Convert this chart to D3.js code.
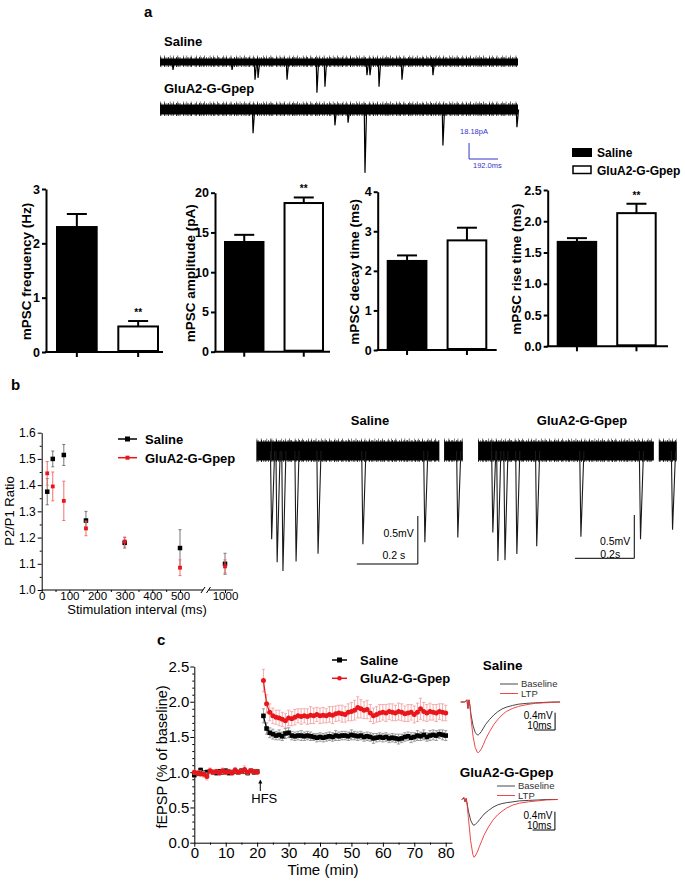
<!DOCTYPE html>
<html><head><meta charset="utf-8">
<script src="https://cdn.jsdelivr.net/npm/d3@7"></script>
<style>
body{margin:0;background:#fff}
svg{display:block;font-family:"Liberation Sans",Arial,Helvetica,sans-serif}
</style></head><body>
<svg id="fig" width="685" height="882"></svg>
<script>
// ================= DATA =================
// Panel a – example mPSC traces (events)
const aSalineEventMs = [86,477,629,649,841,1039,1092,1370,1390,1450,1602,1807];
const aSalineEventPA = [9,9,20,18,20,35,28,15,15,28,20,15];
const aGluEventMs = [616,1158,1245,1357,1873,2363];
const aGluEventPA = [27,18,15,72,41,20];

// Panel a – bar charts
const groups = ["Saline","GluA2-G-Gpep"];
const freqMean = [2.30,0.47],  freqErr = [0.24,0.10], freqSig = ["","**"];
const ampMean  = [13.8,18.7],  ampErr  = [0.90,0.70], ampSig  = ["","**"];
const decayMean= [2.25,2.77],  decayErr= [0.14,0.32], decaySig= ["",""];
const riseMean = [1.67,2.13],  riseErr = [0.06,0.15], riseSig = ["","**"];
const freqTicks = [0,1,2,3];
const ampTicks  = [0,5,10,15,20];
const decayTicks= [0,1,2,3,4];
const riseTicks = [0,0.5,1.0,1.5,2.0,2.5];

// Panel b – paired-pulse ratio
const ppIntervals = [20,40,80,160,300,500,1000];
const ppSaline    = [1.375,1.500,1.515,1.265,1.180,1.160,1.100];
const ppSalineErr = [0.050,0.030,0.040,0.035,0.020,0.070,0.040];
const ppGlu       = [1.445,1.395,1.340,1.235,1.185,1.085,1.090];
const ppGluErr    = [0.045,0.055,0.075,0.028,0.017,0.030,0.025];
const ppXTicks = [0,100,200,300,400,500,1000];
const ppYTicks = [1.0,1.1,1.2,1.3,1.4,1.5,1.6];

// Panel b – example traces (spike times in ms, depth in mV)
const bSalineSpikeMs = [49,67,86,129,201,348,551,659];
const bSalineSpikeMv = [0.92,1.16,1.25,1.15,1.07,0.97,0.95,0.90];
const bSalineSegs = [[0,49],[49,598],[615,675]];
const bGluSpikeMs = [49,66,90,130,197,346,547,655];
const bGluSpikeMv = [0.94,1.27,1.26,1.19,1.10,0.99,1.02,0.91];
const bGluSegs = [[0,45],[45,592],[609,669]];

// Panel c – LTP time course
const cBaseTime = [0,1,2,3,4,5,6,7,8,9,10,11,12,13,14,15,16,17,18,19,20];
const cSalBase  = [0.96,0.98,1.03,0.99,1.00,1.01,1.00,0.99,1.01,1.00,1.02,0.99,1.00,1.01,1.00,1.02,1.01,0.99,1.02,1.00,1.01];
const cGluBase  = [1.00,0.99,0.98,0.97,0.94,1.02,1.00,1.01,0.99,1.02,1.00,1.01,0.99,1.03,1.00,1.01,1.04,1.00,1.02,1.01,1.00];
const cSalBaseErr=[0.03,0.03,0.03,0.03,0.03,0.03,0.03,0.03,0.03,0.03,0.03,0.03,0.03,0.03,0.03,0.03,0.03,0.03,0.03,0.03,0.03];
const cGluBaseErr=[0.03,0.03,0.04,0.04,0.05,0.04,0.03,0.03,0.03,0.04,0.03,0.03,0.03,0.04,0.03,0.03,0.05,0.03,0.03,0.03,0.03];
const cPostTime = [22,23,24,25,26,27,28,29,30,31,32,33,34,35,36,37,38,39,40,41,42,43,44,45,46,47,48,49,50,51,52,53,54,55,56,57,58,59,60,61,62,63,64,65,66,67,68,69,70,71,72,73,74,75,76,77,78,79,80];
const cSalPost = [1.80,1.62,1.56,1.54,1.52,1.53,1.51,1.55,1.56,1.52,
                  1.51,1.52,1.52,1.51,1.52,1.51,1.50,1.49,1.50,1.49,
                  1.50,1.51,1.50,1.52,1.51,1.52,1.52,1.51,1.53,1.52,
                  1.51,1.52,1.50,1.51,1.50,1.48,1.49,1.50,1.49,1.50,
                  1.48,1.49,1.48,1.47,1.48,1.50,1.51,1.49,1.50,1.52,
                  1.51,1.53,1.50,1.52,1.53,1.52,1.54,1.53,1.52];
const cSalPostErr = [0.10,0.08,0.07,0.07,0.06,0.07,0.06,0.07,0.07,0.06,
                     0.06,0.06,0.07,0.06,0.06,0.06,0.05,0.06,0.06,0.06,
                     0.06,0.06,0.06,0.07,0.06,0.06,0.06,0.06,0.07,0.06,
                     0.06,0.06,0.06,0.06,0.06,0.07,0.06,0.06,0.06,0.06,
                     0.06,0.06,0.06,0.07,0.06,0.06,0.06,0.07,0.06,0.07,
                     0.06,0.07,0.06,0.07,0.07,0.07,0.06,0.07,0.07];
const cGluPost = [2.30,1.97,1.85,1.80,1.78,1.77,1.75,1.73,1.77,1.76,
                  1.78,1.80,1.79,1.80,1.79,1.81,1.80,1.82,1.80,1.81,
                  1.80,1.82,1.81,1.83,1.84,1.83,1.82,1.85,1.86,1.88,
                  1.92,1.90,1.88,1.89,1.84,1.80,1.82,1.84,1.85,1.84,
                  1.86,1.85,1.84,1.86,1.85,1.83,1.84,1.85,1.82,1.85,
                  1.90,1.86,1.84,1.86,1.85,1.84,1.86,1.85,1.84];
const cGluPostErr = [0.16,0.13,0.12,0.11,0.10,0.11,0.10,0.10,0.11,0.10,
                     0.11,0.10,0.11,0.10,0.11,0.12,0.11,0.10,0.11,0.11,
                     0.10,0.11,0.12,0.11,0.11,0.12,0.11,0.12,0.13,0.14,
                     0.15,0.13,0.12,0.13,0.12,0.11,0.11,0.12,0.11,0.12,
                     0.11,0.12,0.11,0.12,0.12,0.11,0.12,0.11,0.12,0.13,
                     0.15,0.13,0.12,0.12,0.11,0.12,0.11,0.12,0.11];
const cXTicks = [0,10,20,30,40,50,60,70,80];
const cYTicks = [0,0.5,1.0,1.5,2.0,2.5];

// Panel c – example fEPSP waveforms (ms, mV)
const epSalT    = [0,2,3,3.5,4,4.5,5,6,7,8,8.5,9,10,11,12,14,16,18,20,22,25,28,32,36,40,44,48];
const epSalBase = [0,0,0.05,-0.15,0.05,-0.1,-0.3,-0.55,-0.7,-0.76,-0.76,-0.74,-0.68,-0.6,-0.52,-0.4,-0.3,-0.22,-0.16,-0.12,-0.08,-0.05,-0.03,-0.02,-0.01,0,0];
const epSalLtp  = [0,0,0.05,-0.15,0.05,-0.1,-0.4,-0.8,-1.05,-1.16,-1.17,-1.15,-1.08,-0.98,-0.86,-0.68,-0.52,-0.4,-0.3,-0.22,-0.15,-0.1,-0.06,-0.03,-0.02,-0.01,0];
const epGluT    = [0,1,1.5,2,2.5,3,4,5,5.5,6,7,8,9,10,12,14,16,18,20,23,26,30,34,38,43];
const epGluBase = [0,0.03,-0.05,0.02,-0.1,-0.25,-0.45,-0.55,-0.56,-0.55,-0.5,-0.44,-0.38,-0.32,-0.24,-0.17,-0.12,-0.09,-0.07,-0.05,-0.03,-0.02,-0.01,0,0];
const epGluLtp  = [0,0.05,-0.05,0.03,-0.15,-0.4,-0.9,-1.2,-1.26,-1.24,-1.15,-1.02,-0.9,-0.78,-0.6,-0.45,-0.34,-0.26,-0.19,-0.12,-0.08,-0.05,-0.03,-0.01,0];

// ================= DRAWING =================
const svg = d3.select("#fig");
const RED = "#e8161b";
const RAGGED = "0.6 1.1 0.4 2.3 0.8 1.5 0.5 0.9 0.7 2.8";

function txt(g, x, y, s, o = {}) {
  const t = g.append("text").attr("x", x).attr("y", y).text(s)
    .attr("font-size", o.size || 13)
    .attr("font-weight", o.bold ? "bold" : "normal")
    .attr("text-anchor", o.anchor || "start")
    .attr("fill", o.fill || "#000");
  if (o.base) t.attr("dominant-baseline", o.base);
  if (o.rot) t.attr("transform", `rotate(${o.rot},${x},${y})`);
  return t;
}
function styleAxis(g, o) {
  g.selectAll("path.domain").attr("stroke", "#000").attr("stroke-width", o.lw);
  g.selectAll(".tick line").attr("stroke", "#000").attr("stroke-width", o.lw);
  g.selectAll(".tick text").attr("fill", "#000").attr("font-size", o.size)
    .attr("font-weight", o.bold ? "bold" : "normal")
    .attr("font-family", '"Liberation Sans",Arial,sans-serif');
}
function band(g, x1, x2, y, w) {
  g.append("line").attr("x1", x1).attr("x2", x2).attr("y1", y).attr("y2", y)
    .attr("stroke", "#000").attr("stroke-width", w);
  g.append("line").attr("x1", x1).attr("x2", x2).attr("y1", y).attr("y2", y)
    .attr("stroke", "#000").attr("stroke-width", w + 3).attr("stroke-dasharray", RAGGED);
  g.append("line").attr("x1", x1).attr("x2", x2).attr("y1", y - 1).attr("y2", y - 1)
    .attr("stroke", "#000").attr("stroke-width", w + 4).attr("stroke-dasharray", "0.5 3.7 0.6 5.1 0.5 2.9");
}

// panel letters
txt(svg, 144, 17, "a", {size: 15, bold: true});
txt(svg, 11, 390, "b", {size: 15, bold: true});
txt(svg, 157, 645, "c", {size: 15, bold: true});

// ---------- Panel a traces ----------
{
  const g = svg.append("g");
  const x = d3.scaleLinear().domain([0, 2370]).range([160, 518]);
  const y = d3.scaleLinear().domain([0, 18.18]).range([0, 16]);
  function trace(cy, w, ms, pa) {
    band(g, x(0), x(2370), cy, w);
    ms.forEach((t, i) => {
      const px = x(t), d = y(pa[i]);
      g.append("path").attr("d", `M${px - 0.7},${cy} L${px},${cy + d} L${px + 1.6},${cy}`)
        .attr("fill", "none").attr("stroke", "#000").attr("stroke-width", 1.2);
    });
  }
  txt(g, 164, 46, "Saline", {size: 13, bold: true});
  trace(62, 7, aSalineEventMs, aSalineEventPA);
  txt(g, 164, 93, "GluA2-G-Gpep", {size: 13, bold: true});
  trace(109.5, 10, aGluEventMs, aGluEventPA);
  // scale bar 18.18 pA / 192 ms
  const sx0 = x(2046), sy1 = 159;
  g.append("path").attr("d", `M${sx0},${sy1 - y(18.18)} L${sx0},${sy1} L${x(2046 + 192)},${sy1}`)
    .attr("fill", "none").attr("stroke", "#3333cc").attr("stroke-width", 1);
  txt(g, 460, 134, "18.18pA", {size: 7.5, fill: "#3333cc"});
  txt(g, 473, 168, "192.0ms", {size: 7.5, fill: "#3333cc"});
}

// ---------- Panel a bar charts ----------
const barPanels = [
  {mean: freqMean, err: freqErr, sig: freqSig, ticks: freqTicks, fmt: d3.format("d"), title: "mPSC frequency (Hz)", ax: 46, end: 163, bars: [56, 159], y0: 352, yTop: 189, max: 3, tx: 26},
  {mean: ampMean, err: ampErr, sig: ampSig, ticks: ampTicks, fmt: d3.format("d"), title: "mPSC amplitude (pA)", ax: 215, end: 330, bars: [224, 324], y0: 351.7, yTop: 192.7, max: 20, tx: 191},
  {mean: decayMean, err: decayErr, sig: decaySig, ticks: decayTicks, fmt: d3.format("d"), title: "mPSC decay time (ms)", ax: 377.7, end: 496.7, bars: [386.7, 487.3], y0: 350, yTop: 191.7, max: 4, tx: 355},
  {mean: riseMean, err: riseErr, sig: riseSig, ticks: riseTicks, fmt: d3.format(".1f"), title: "mPSC rise time (ms)", ax: 547.7, end: 668, bars: [556.7, 656.7], y0: 346.3, yTop: 190, max: 2.5, tx: 516.5}
];
barPanels.forEach(p => {
  const g = svg.append("g");
  const y = d3.scaleLinear().domain([0, p.max]).range([p.y0, p.yTop]);
  const x = d3.scaleBand().domain(groups).range(p.bars).paddingInner(0.32).paddingOuter(0);
  groups.forEach((k, i) => {
    const cx = x(k) + x.bandwidth() / 2;
    g.append("line").attr("x1", cx).attr("x2", cx).attr("y1", y(p.mean[i])).attr("y2", y(p.mean[i] + p.err[i]))
      .attr("stroke", "#000").attr("stroke-width", 2);
    g.append("line").attr("x1", cx - 10).attr("x2", cx + 10).attr("y1", y(p.mean[i] + p.err[i])).attr("y2", y(p.mean[i] + p.err[i]))
      .attr("stroke", "#000").attr("stroke-width", 2);
    if (p.sig[i]) txt(g, cx, y(p.mean[i] + p.err[i]) - 5, p.sig[i], {size: 10, bold: true, anchor: "middle"});
  });
  g.selectAll("rect.bar").data(groups).join("rect")
    .attr("x", d => x(d) + 1).attr("width", x.bandwidth() - 2)
    .attr("y", (d, i) => y(p.mean[i])).attr("height", (d, i) => p.y0 - y(p.mean[i]) - 1)
    .attr("fill", (d, i) => i === 0 ? "#000" : "#fff")
    .attr("stroke", "#000").attr("stroke-width", 2);
  const ya = g.append("g").attr("transform", `translate(${p.ax},0)`)
    .call(d3.axisLeft(y).tickValues(p.ticks).tickFormat(p.fmt).tickSize(4).tickSizeOuter(0).tickPadding(2));
  styleAxis(ya, {lw: 2, size: 12.5, bold: true});
  g.append("line").attr("x1", p.ax - 1).attr("x2", p.end).attr("y1", p.y0).attr("y2", p.y0)
    .attr("stroke", "#000").attr("stroke-width", 2);
  const xa = g.append("g").attr("transform", `translate(0,${p.y0})`)
    .call(d3.axisBottom(x).tickSize(5).tickFormat(""));
  xa.select("path.domain").remove();
  styleAxis(xa, {lw: 2, size: 12});
  txt(g, p.tx, (p.y0 + p.yTop) / 2 + 1, p.title, {size: 13.5, bold: true, anchor: "middle", base: "central", rot: -90});
});
// bar legend
{
  const g = svg.append("g");
  g.append("rect").attr("x", 572.5).attr("y", 148.5).attr("width", 19).attr("height", 8).attr("fill", "#000").attr("stroke", "#000");
  g.append("rect").attr("x", 573).attr("y", 166).attr("width", 18).attr("height", 7.5).attr("fill", "#fff").attr("stroke", "#000").attr("stroke-width", 1.5);
  txt(g, 597, 157, groups[0], {size: 12, bold: true});
  txt(g, 597, 174.5, groups[1], {size: 12, bold: true});
}

// ---------- Panel b: PPR ----------
{
  const g = svg.append("g");
  const x = d3.scaleLinear().domain([0, 500, 1000]).range([41.7, 180, 225]);
  const y = d3.scaleLinear().domain([1.0, 1.6]).range([590, 432.7]);
  const ya = g.append("g").attr("transform", "translate(41.7,0)")
    .call(d3.axisLeft(y).tickValues(ppYTicks).tickFormat(d3.format(".1f")).tickSize(4).tickSizeOuter(0).tickPadding(2));
  styleAxis(ya, {lw: 1, size: 12});
  g.append("g").attr("transform", "translate(41.7,0)")
    .call(d3.axisLeft(y).tickValues([1.05, 1.15, 1.25, 1.35, 1.45, 1.55]).tickFormat("").tickSize(2).tickSizeOuter(0))
    .call(s => { s.select("path.domain").remove(); s.selectAll("line").attr("stroke", "#000"); });
  const xa = g.append("g").attr("transform", "translate(0,590)")
    .call(d3.axisBottom(x).tickValues(ppXTicks).tickFormat(d3.format("d")).tickSize(3).tickPadding(-1));
  xa.select("path.domain").remove();
  styleAxis(xa, {lw: 1, size: 11.5});
  g.append("g").attr("transform", "translate(0,590)")
    .call(d3.axisBottom(x).tickValues([50, 150, 250, 350, 450]).tickFormat("").tickSize(2))
    .call(s => { s.select("path.domain").remove(); s.selectAll("line").attr("stroke", "#000"); });
  g.append("line").attr("x1", 41.7).attr("x2", 203).attr("y1", 590).attr("y2", 590).attr("stroke", "#000");
  g.append("line").attr("x1", 208.5).attr("x2", 233).attr("y1", 590).attr("y2", 590).attr("stroke", "#000");
  g.append("path").attr("d", "M201,593 L205,587 M206.5,593 L210.5,587").attr("stroke", "#000").attr("fill", "none");
  function series(vals, errs, color, ecolor, sz) {
    ppIntervals.forEach((t, i) => {
      const px = x(t);
      g.append("line").attr("x1", px).attr("x2", px).attr("y1", y(vals[i] - errs[i])).attr("y2", y(vals[i] + errs[i]))
        .attr("stroke", ecolor).attr("stroke-width", 1);
      [-1, 1].forEach(s => g.append("line").attr("x1", px - 1.5).attr("x2", px + 1.5)
        .attr("y1", y(vals[i] + s * errs[i])).attr("y2", y(vals[i] + s * errs[i])).attr("stroke", ecolor));
    });
    g.selectAll(null).data(vals).join("rect")
      .attr("x", (d, i) => x(ppIntervals[i]) - sz / 2).attr("y", d => y(d) - sz / 2)
      .attr("width", sz).attr("height", sz).attr("fill", color);
  }
  series(ppSaline, ppSalineErr, "#000", "#777", 4.5);
  series(ppGlu, ppGluErr, RED, "#f07070", 3.8);
  g.append("line").attr("x1", 118).attr("x2", 137).attr("y1", 439).attr("y2", 439).attr("stroke", "#000").attr("stroke-width", 1.5);
  g.append("rect").attr("x", 125).attr("y", 436.5).attr("width", 5).attr("height", 5).attr("fill", "#000");
  g.append("line").attr("x1", 118).attr("x2", 137).attr("y1", 457.7).attr("y2", 457.7).attr("stroke", RED).attr("stroke-width", 1.5);
  g.append("rect").attr("x", 125.5).attr("y", 455.7).attr("width", 4).attr("height", 4).attr("fill", RED);
  txt(g, 145, 443.5, "Saline", {size: 13, bold: true});
  txt(g, 145, 462.5, "GluA2-G-Gpep", {size: 13, bold: true});
  txt(g, 9, 511, "P2/P1 Ratio", {size: 13, anchor: "middle", base: "central", rot: -90});
  txt(g, 137, 614, "Stimulation interval (ms)", {size: 13, anchor: "middle"});
}

// ---------- Panel b: traces ----------
function bTrace(title, titleX, x0, x1, dur, segs, spikeMs, spikeMv, pxPerMv, barX, barY, mvLabelY, sLabelY, sLabel) {
  const g = svg.append("g");
  const x = d3.scaleLinear().domain([0, dur]).range([x0, x1]);
  const y = d3.scaleLinear().domain([0, 1]).range([451, 451 + pxPerMv]);
  txt(g, titleX, 425, title, {size: 13, bold: true, anchor: "middle"});
  segs.forEach(s => band(g, x(s[0]), x(s[1]), y(0), 19));
  spikeMs.forEach((t, i) => {
    const px = x(t), py = y(spikeMv[i]);
    g.append("path").attr("d", `M${px - 1.2},${y(0)} L${px},${py} L${px + 3},${y(0)}`)
      .attr("fill", "none").attr("stroke", "#1a1a1a").attr("stroke-width", 1.1);
  });
  g.append("path").attr("d", `M${x(barX - 200)},${barY} L${x(barX)},${barY} L${x(barX)},${barY - (y(0.5) - y(0))}`)
    .attr("fill", "none").attr("stroke", "#000").attr("stroke-width", 1);
  txt(g, x(barX) - 4, mvLabelY, "0.5mV", {size: 10.5, anchor: "end"});
  txt(g, x(barX) - 24, sLabelY, sLabel, {size: 10.5, anchor: "middle"});
}
bTrace("Saline", 370, 256.7, 462.7, 675, bSalineSegs, bSalineSpikeMs, bSalineSpikeMv, 96, 528, 564, 537, 559, "0.2 s");
bTrace("GluA2-G-Gpep", 582, 478.3, 676.7, 669, bGluSegs, bGluSpikeMs, bGluSpikeMv, 86.6, 526, 558.3, 545, 558, "0.2s");

// ---------- Panel c: LTP time course ----------
{
  const g = svg.append("g");
  const x = d3.scaleLinear().domain([0, 82]).range([194.3, 452]);
  const y = d3.scaleLinear().domain([0, 2.5]).range([842.7, 666.5]);
  const ya = g.append("g").attr("transform", "translate(194.3,0)")
    .call(d3.axisLeft(y).tickValues(cYTicks).tickFormat(d3.format(".1f")).tickSize(4).tickSizeOuter(0).tickPadding(1));
  styleAxis(ya, {lw: 1, size: 15});
  g.append("g").attr("transform", "translate(194.3,0)")
    .call(d3.axisLeft(y).tickValues([0.1,0.2,0.3,0.4,0.6,0.7,0.8,0.9,1.1,1.2,1.3,1.4,1.6,1.7,1.8,1.9,2.1,2.2,2.3,2.4]).tickFormat("").tickSize(2).tickSizeOuter(0))
    .call(s => { s.select("path.domain").remove(); s.selectAll("line").attr("stroke", "#000"); });
  const xa = g.append("g").attr("transform", "translate(0,842.7)")
    .call(d3.axisBottom(x).tickValues(cXTicks).tickFormat(d3.format("d")).tickSize(4).tickSizeOuter(0).tickPadding(1));
  styleAxis(xa, {lw: 1, size: 15});
  g.append("g").attr("transform", "translate(0,842.7)")
    .call(d3.axisBottom(x).tickValues([5, 15, 25, 35, 45, 55, 65, 75]).tickFormat("").tickSize(2))
    .call(s => { s.select("path.domain").remove(); s.selectAll("line").attr("stroke", "#000"); });

  function series(times, vals, errs, color, ecolor, shape) {
    const pts = times.map((t, i) => [x(t), y(vals[i]), y(vals[i] - errs[i]), y(vals[i] + errs[i])]);
    pts.forEach(p => {
      g.append("line").attr("x1", p[0]).attr("x2", p[0]).attr("y1", p[2]).attr("y2", p[3]).attr("stroke", ecolor).attr("stroke-width", 0.8);
      [p[2], p[3]].forEach(yy => g.append("line").attr("x1", p[0] - 1.6).attr("x2", p[0] + 1.6).attr("y1", yy).attr("y2", yy).attr("stroke", ecolor).attr("stroke-width", 0.8));
    });
    g.append("path").attr("d", d3.line()(pts.map(p => [p[0], p[1]]))).attr("fill", "none").attr("stroke", color).attr("stroke-width", 1.2);
    pts.forEach(p => {
      if (shape === "sq") g.append("rect").attr("x", p[0] - 2.3).attr("y", p[1] - 2.3).attr("width", 4.6).attr("height", 4.6).attr("fill", color);
      else g.append("circle").attr("cx", p[0]).attr("cy", p[1]).attr("r", 2.5).attr("fill", color);
    });
  }
  series(cBaseTime, cSalBase, cSalBaseErr, "#000", "#888", "sq");
  series(cPostTime, cSalPost, cSalPostErr, "#000", "#888", "sq");
  series(cBaseTime, cGluBase, cGluBaseErr, RED, "#f29a9a", "ci");
  series(cPostTime, cGluPost, cGluPostErr, RED, "#f29a9a", "ci");

  const hx = x(21);
  g.append("line").attr("x1", hx).attr("x2", hx).attr("y1", 791).attr("y2", 782).attr("stroke", "#000").attr("stroke-width", 1);
  g.append("path").attr("d", `M${hx - 2},${783.5} L${hx},${779.5} L${hx + 2},${783.5} Z`).attr("fill", "#000");
  txt(g, hx + 4, 803, "HFS", {size: 13, anchor: "middle"});

  g.append("line").attr("x1", 332).attr("x2", 347).attr("y1", 660).attr("y2", 660).attr("stroke", "#000").attr("stroke-width", 1.5);
  g.append("rect").attr("x", 337).attr("y", 657.5).attr("width", 5).attr("height", 5).attr("fill", "#000");
  g.append("line").attr("x1", 332).attr("x2", 347).attr("y1", 678.3).attr("y2", 678.3).attr("stroke", RED).attr("stroke-width", 1.5);
  g.append("circle").attr("cx", 339.5).attr("cy", 678.3).attr("r", 2.3).attr("fill", RED);
  txt(g, 360, 664.5, "Saline", {size: 13, bold: true});
  txt(g, 360, 683, "GluA2-G-Gpep", {size: 13, bold: true});

  txt(g, 162, 757, "fEPSP (% of baseline)", {size: 14.5, anchor: "middle", base: "central", rot: -90});
  txt(g, 323, 875, "Time (min)", {size: 15, anchor: "middle"});
}

// ---------- Panel c: fEPSP insets ----------
function inset(title, titleX, titleY, legX, legY, t, base, ltp, x0, pxPerMs, y0, pxPerMv, barX, barY) {
  const g = svg.append("g");
  const x = d3.scaleLinear().domain([0, 10]).range([x0, x0 + 10 * pxPerMs]);
  const y = d3.scaleLinear().domain([0, -1]).range([y0, y0 + pxPerMv]);
  txt(g, titleX, titleY, title, {size: 13.5, bold: true, anchor: "middle"});
  g.append("line").attr("x1", legX).attr("x2", legX + 18).attr("y1", legY).attr("y2", legY).attr("stroke", "#333").attr("stroke-width", 0.9);
  g.append("line").attr("x1", legX).attr("x2", legX + 18).attr("y1", legY + 9.5).attr("y2", legY + 9.5).attr("stroke", "#e33").attr("stroke-width", 0.9);
  txt(g, legX + 21, legY + 3.3, "Baseline", {size: 9.5, fill: "#333"});
  txt(g, legX + 21, legY + 12.8, "LTP", {size: 9.5, fill: "#333"});
  const line = d3.line().x((d, i) => x(t[i])).y(d => y(d));
  g.append("path").attr("d", line(base)).attr("fill", "none").attr("stroke", "#333").attr("stroke-width", 0.9);
  g.append("path").attr("d", line(ltp)).attr("fill", "none").attr("stroke", "#e33").attr("stroke-width", 0.9);
  g.append("path").attr("d", `M${x(barX - 10)},${barY} L${x(barX)},${barY} L${x(barX)},${barY - (y(-0.4) - y(0))}`)
    .attr("fill", "none").attr("stroke", "#000").attr("stroke-width", 1);
  txt(g, x(barX) - 2.5, barY - 11, "0.4mV", {size: 10, anchor: "end"});
  txt(g, x(barX) - 3.5, barY - 1.5, "10ms", {size: 10, anchor: "end"});
}
inset("Saline", 502.7, 670, 500, 684, epSalT, epSalBase, epSalLtp, 460.7, 2.07, 702, 43.3, 45.6, 730);
inset("GluA2-G-Gpep", 506.7, 777, 497, 786, epGluT, epGluBase, epGluLtp, 461.7, 2.23, 799.5, 45.8, 41.8, 830);
</script>
</body></html>
